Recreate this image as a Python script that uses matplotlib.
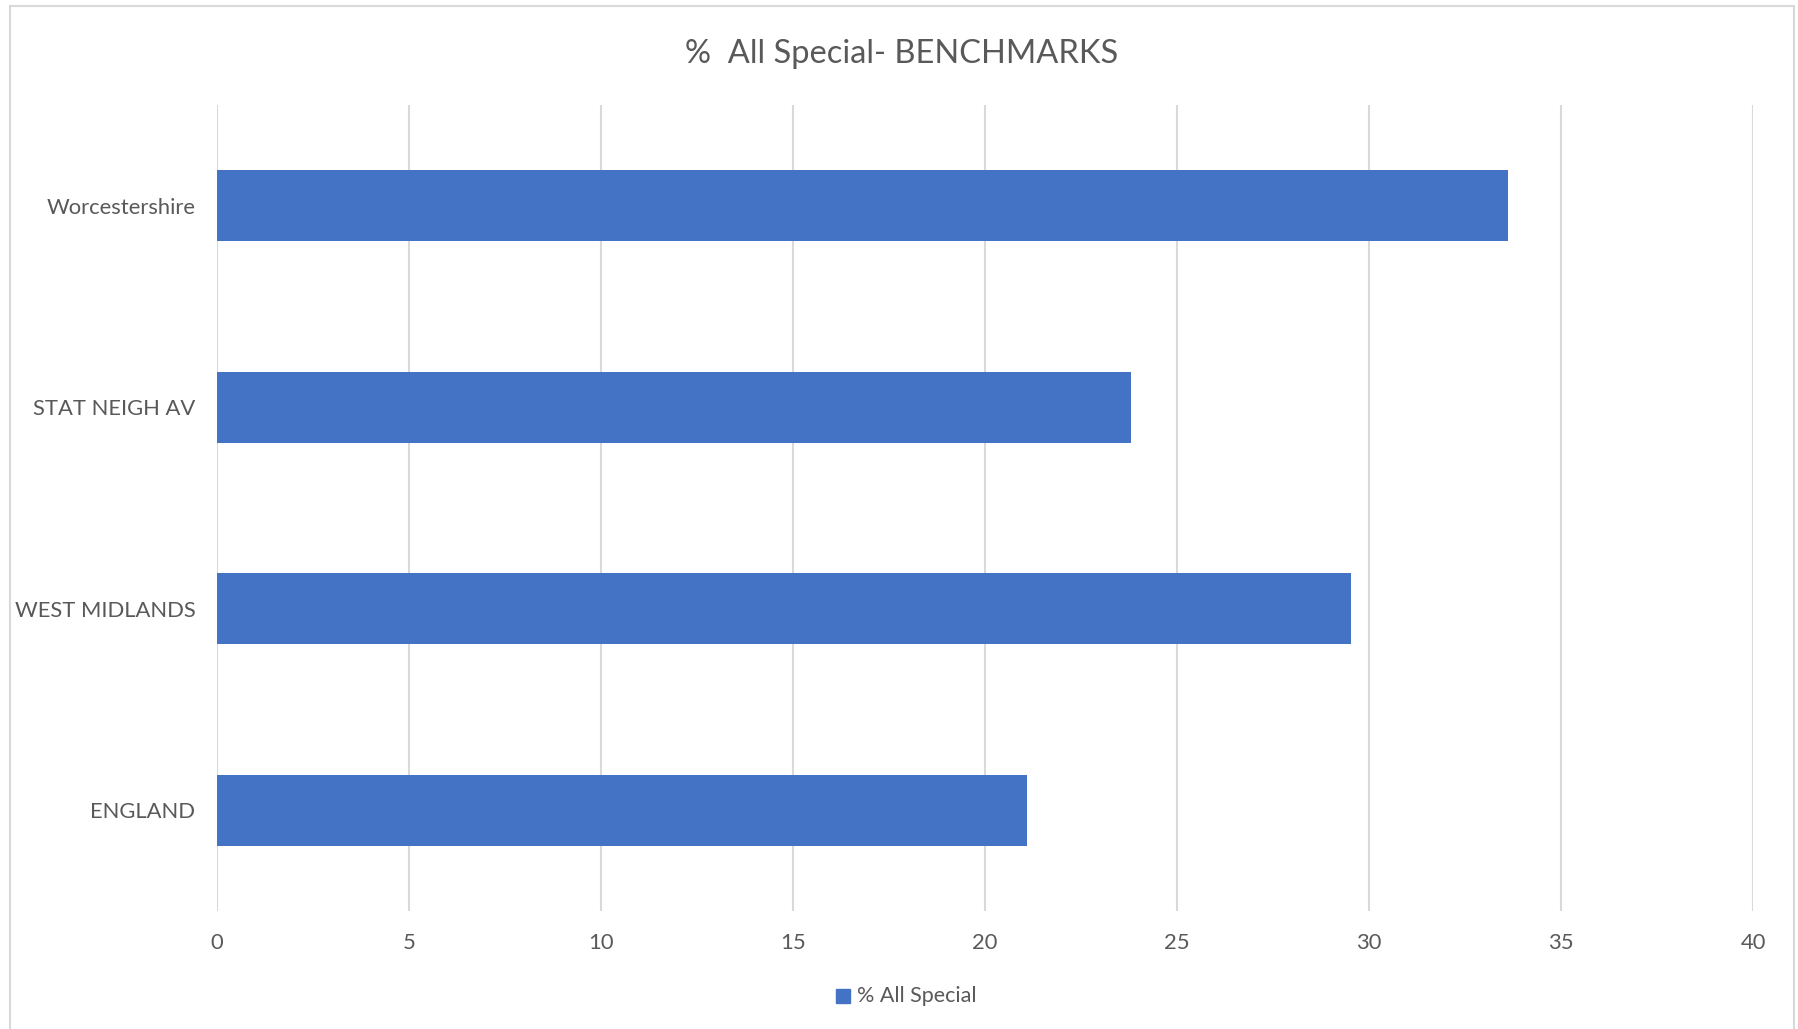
import matplotlib
matplotlib.use("Agg")
import matplotlib.pyplot as plt
from matplotlib.lines import Line2D
from matplotlib.patches import Rectangle

categories = ["Worcestershire", "STAT NEIGH AV", "WEST MIDLANDS", "ENGLAND"]
values = [33.62, 23.80, 29.52, 21.09]
series_name = "% All Special"
title = "%  All Special- BENCHMARKS"
xticks = [0, 5, 10, 15, 20, 25, 30, 35, 40]

BAR = "#4472C4"
GRID = "#D9D9D9"
TEXT = "#595959"

plt.rcParams["font.family"] = ["Lato", "DejaVu Sans"]

W, H = 1799, 1029
fig = plt.figure(figsize=(W / 100, H / 100), dpi=100)
fig.patch.set_facecolor("white")

# chart frame (left, top, right edges)
for xs, ys in [((10, 10), (-10, 1023)), ((10, 1794), (1023, 1023)), ((1794, 1794), (1023, -10))]:
    fig.add_artist(Line2D([x / W for x in xs], [y / H for y in ys],
                          color=GRID, lw=1.5, transform=fig.transFigure))

ax = fig.add_axes([217 / W, 118 / H, (1753 - 217) / W, (911 - 105) / H])
ypos = list(range(len(categories)))
ax.barh(ypos, values, height=0.35, color=BAR, zorder=3, label=series_name)
ax.set_ylim(len(categories) - 0.5, -0.5)
ax.set_xlim(0, 40)
ax.set_xticks(xticks)
ax.set_xticklabels([str(t) for t in xticks])
ax.set_yticks(ypos)
ax.set_yticklabels(categories)
ax.grid(axis="x", color=GRID, lw=1.5, zorder=0)
ax.grid(axis="y", visible=False)
for s in ax.spines.values():
    s.set_visible(False)
ax.tick_params(axis="both", length=0, colors=TEXT, labelsize=15.8)
ax.tick_params(axis="x", pad=15.5)
ax.tick_params(axis="y", pad=15.5)

fig.text(902 / W, 1 - 54 / H, title, ha="center", va="center",
         fontsize=23.5, color=TEXT)

# legend
fig.add_artist(Rectangle((836 / W, 1 - 1003 / H), 14 / W, 14 / H,
                         transform=fig.transFigure, color=BAR))
fig.text(857 / W, 1 - 996 / H, series_name, ha="left", va="center",
         fontsize=15.5, color=TEXT)

fig.savefig("out.png", dpi=100, facecolor="white")
